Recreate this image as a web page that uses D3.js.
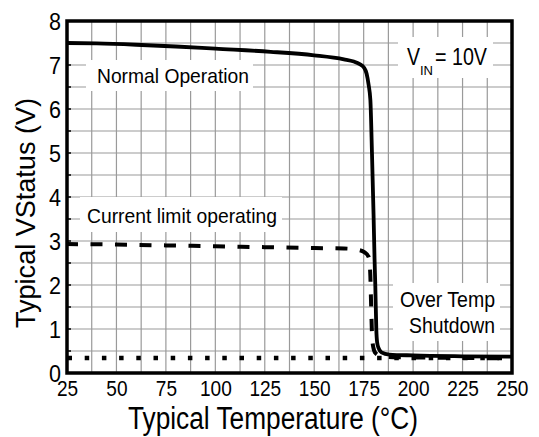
<!DOCTYPE html>
<html>
<head>
<meta charset="utf-8">
<script src="https://cdn.jsdelivr.net/npm/d3@7/dist/d3.min.js"></script>
<style>
  html, body { margin: 0; padding: 0; background: #fff; }
  svg { display: block; }
  text { font-family: "Liberation Sans", Arial, Helvetica, sans-serif; fill: #000; }
</style>
</head>
<body>
<svg id="chart" width="539" height="437"></svg>
<script>
// ---- Data ----
const xTicks = [25, 50, 75, 100, 125, 150, 175, 200, 225, 250];
const yTicks = [0, 1, 2, 3, 4, 5, 6, 7, 8];

// Normal operation (solid)
const normalTemp = [25, 40, 60, 80, 100, 128, 150, 165, 170, 173, 175, 176.5, 177.5, 178.4, 179.2, 180, 180.5, 180.9, 181.4, 181.8, 182.5, 184, 188, 200, 225, 250];
const normalV    = [7.5, 7.49, 7.46, 7.42, 7.37, 7.30, 7.22, 7.13, 7.08, 7.02, 6.95, 6.8, 6.55, 6.2, 5.0, 3.6, 2.6, 1.96, 0.98, 0.7, 0.57, 0.47, 0.42, 0.40, 0.38, 0.37];

// Current limit operating (dashed)
const currentTemp = [25, 50, 75, 100, 125, 150, 165, 172, 175.5, 177.5, 178.3, 178.8, 179.2, 179.8, 181, 184, 190, 210, 250];
const currentV    = [2.93, 2.92, 2.90, 2.88, 2.86, 2.84, 2.83, 2.80, 2.74, 2.64, 2.3, 1.5, 0.9, 0.6, 0.45, 0.38, 0.36, 0.35, 0.33];

// Over temp shutdown level (dotted)
const shutdownTemp = [25, 250];
const shutdownV    = [0.34, 0.34];

// ---- Layout ----
const svg = d3.select("#chart");
const L = 67, R = 512, T = 21, B = 373;
const x = d3.scaleLinear().domain([25, 250]).range([L, R]);
const y = d3.scaleLinear().domain([0, 8]).range([B, T]);

// Grid
const gx = d3.range(25, 250.01, 12.5);
const gy = d3.range(0, 8.01, 0.5);
const grid = svg.append("g").attr("stroke", "#9a9a9a").attr("stroke-width", 1.2);
grid.selectAll("line.v").data(gx).join("line")
  .attr("x1", d => x(d)).attr("x2", d => x(d)).attr("y1", T).attr("y2", B);
grid.selectAll("line.h").data(gy).join("line")
  .attr("x1", L).attr("x2", R).attr("y1", d => y(d)).attr("y2", d => y(d));

// Label helper with white background
function label(lines, opts) {
  const g = svg.append("g");
  g.append("rect")
    .attr("x", opts.box[0]).attr("y", opts.box[1])
    .attr("width", opts.box[2] - opts.box[0]).attr("height", opts.box[3] - opts.box[1])
    .attr("fill", "#fff");
  lines.forEach(l => {
    g.append("text")
      .attr("x", l.x).attr("y", l.y)
      .attr("text-anchor", l.anchor || "start")
      .attr("font-size", l.size)
      .attr("textLength", l.len)
      .attr("lengthAdjust", "spacingAndGlyphs")
      .text(l.t);
  });
  return g;
}

// Lines
const line = d3.line().x(d => x(d[0])).y(d => y(d[1])).curve(d3.curveMonotoneX);

svg.append("path")
  .datum(d3.zip(shutdownTemp, shutdownV))
  .attr("d", line).attr("fill", "none").attr("stroke", "#000")
  .attr("stroke-width", 4.5).attr("stroke-dasharray", "4.5,12.7").attr("stroke-dashoffset", -0.5);

svg.append("path")
  .datum(d3.zip(currentTemp, currentV))
  .attr("d", line).attr("fill", "none").attr("stroke", "#000")
  .attr("stroke-width", 4).attr("stroke-dasharray", "12,12.5").attr("stroke-dashoffset", 1);

svg.append("path")
  .datum(d3.zip(normalTemp, normalV))
  .attr("d", line).attr("fill", "none").attr("stroke", "#000")
  .attr("stroke-width", 3.8).attr("stroke-linejoin", "round");

// Annotations
label([{ t: "Normal Operation", x: 97, y: 83, size: 21, len: 152 }], { box: [86, 60, 253, 91] });
label([{ t: "Current limit operating", x: 87, y: 223, size: 21, len: 190 }], { box: [80, 197, 282, 232] });
label([
  { t: "Over Temp", x: 495, y: 307, size: 21.5, anchor: "end", len: 95 },
  { t: "Shutdown", x: 495, y: 333, size: 21.5, anchor: "end", len: 86 }
], { box: [393, 283, 500, 341] });

// V_IN = 10V
const vin = svg.append("g");
vin.append("rect").attr("x", 398).attr("y", 37).attr("width", 95).attr("height", 41).attr("fill", "#fff");
vin.append("text").attr("x", 407).attr("y", 65).attr("font-size", 23).attr("textLength", 13).attr("lengthAdjust", "spacingAndGlyphs").text("V");
vin.append("text").attr("x", 420).attr("y", 75).attr("font-size", 13.5).attr("textLength", 13).attr("lengthAdjust", "spacingAndGlyphs").text("IN");
vin.append("text").attr("x", 435).attr("y", 65).attr("font-size", 23).attr("textLength", 52).attr("lengthAdjust", "spacingAndGlyphs").text("= 10V");

// Frame
svg.append("rect").attr("x", L).attr("y", T).attr("width", R - L).attr("height", B - T)
  .attr("fill", "none").attr("stroke", "#000").attr("stroke-width", 3.5);

// Minor ticks on left axis
svg.append("g").selectAll("line").data(gy).join("line")
  .attr("x1", L).attr("x2", L + 4).attr("y1", d => y(d)).attr("y2", d => y(d))
  .attr("stroke", "#000").attr("stroke-width", 1.5);

// Axes (labels only)
const xAxis = svg.append("g").attr("transform", `translate(0,${B})`)
  .call(d3.axisBottom(x).tickValues(xTicks).tickSize(0).tickPadding(0).tickFormat(d3.format("d")));
xAxis.select(".domain").remove();
xAxis.selectAll("text").attr("font-size", 21.5).attr("font-family", null)
  .attr("y", 23).attr("dy", null)
  .attr("textLength", d => String(d).length * 10.6)
  .attr("lengthAdjust", "spacingAndGlyphs");

const yAxis = svg.append("g").attr("transform", `translate(${L},0)`)
  .call(d3.axisLeft(y).tickValues(yTicks).tickSize(0).tickPadding(0).tickFormat(d3.format("d")));
yAxis.select(".domain").remove();
yAxis.selectAll("text").attr("font-size", 23).attr("font-family", null)
  .attr("x", -6).attr("dy", "0.35em")
  .attr("textLength", 12).attr("lengthAdjust", "spacingAndGlyphs");

// Axis titles
svg.append("text").attr("x", 273).attr("y", 429).attr("text-anchor", "middle")
  .attr("font-size", 31).attr("textLength", 290).attr("lengthAdjust", "spacingAndGlyphs")
  .text("Typical Temperature (°C)");
svg.append("text").attr("transform", "translate(35,213) rotate(-90)").attr("text-anchor", "middle")
  .attr("font-size", 28).attr("textLength", 230).attr("lengthAdjust", "spacingAndGlyphs")
  .text("Typical VStatus (V)");
</script>
</body>
</html>
